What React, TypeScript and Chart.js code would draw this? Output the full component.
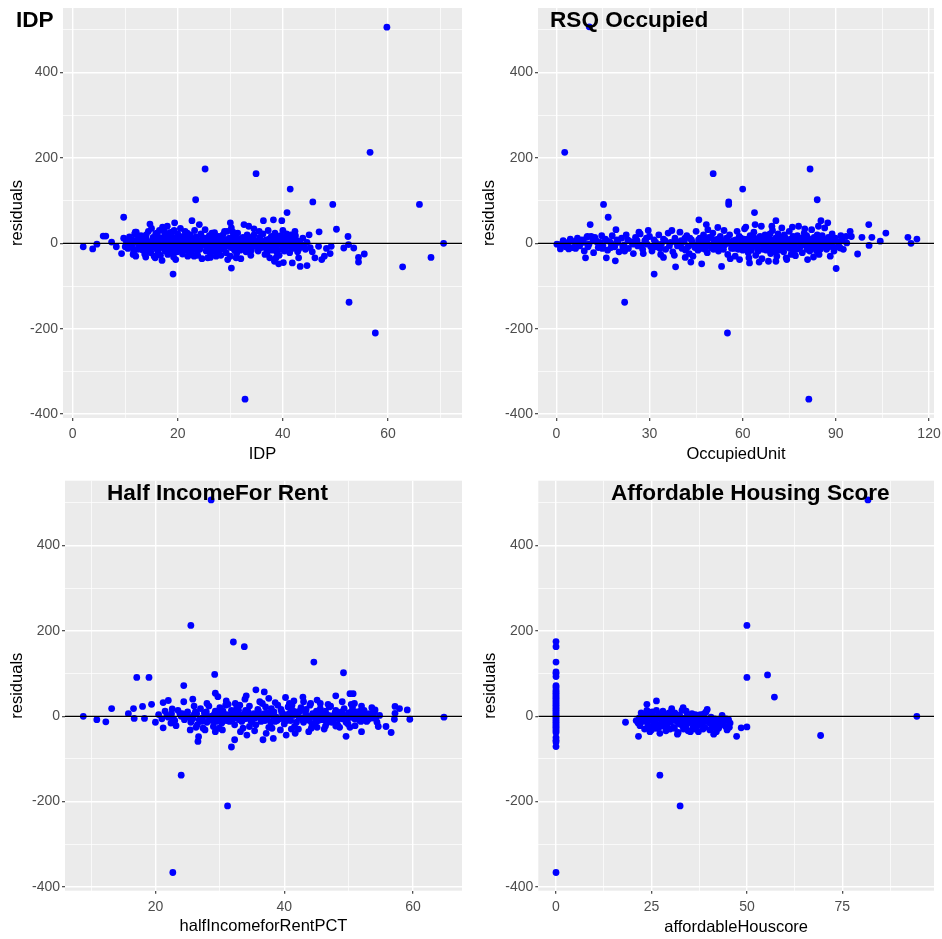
import React, { useEffect, useRef } from 'react';
import { Chart, registerables } from 'chart.js';
Chart.register(...registerables);
Chart.defaults.font.family = '"Liberation Sans", Arial, sans-serif';

// ---------- DATA (x, residual) ----------
const idpPoints: [number, number][] = [
  [59.8, 506], [56.6, 213], [25.2, 174], [34.9, 163], [41.4, 127], [23.4, 102], [45.7, 97], [49.5, 91], [66.0, 91],
  [40.8, 72], [9.7, 61], [32.8, -365], [57.6, -210], [52.6, -138], [62.8, -55], [68.2, -33], [70.6, 0], [19.1, -72],
  [30.2, -58], [2.0, -8], [3.8, -13], [4.6, -2], [5.8, 17], [6.3, 17], [7.4, 3], [8.3, -8], [9.3, -24], [50.2, 33],
  [52.4, 16], [51.6, -11], [52.5, -3], [53.5, -11], [54.4, -33], [54.4, -44], [55.5, -25], [49.2, -7], [49.0, -24],
  [46.8, -7], [46.9, 27], [45.0, 20], [47.4, -38], [46.1, -34], [44.6, 2], [43.3, -54], [44.6, -52], [43.0, -34],
  [41.8, -46], [42.3, 28], [37.5, -34], [38.4, -42], [39.2, -48], [40.1, -45], [38.2, 55], [36.3, 53], [39.8, 53],
  [33.5, 40], [34.5, 34], [32.6, 44], [30.0, 48], [22.7, 53], [24.1, 44], [19.4, 48], [26.2, -33], [14.7, 45],
  [11.9, 26], [9.7, 12],
  [10.2, 5], [10.5, -12], [10.8, 15], [11.0, -3], [11.3, 8], [11.6, -20], [11.8, 22], [12.0, -30], [12.2, 2], [12.5, 12],
  [12.7, -8], [13.0, 18], [13.2, -15], [13.5, 4], [13.7, -25], [14.0, 10], [14.2, -5], [14.4, 28], [14.6, -18], [14.8, 0],
  [15.0, 35], [15.1, -10], [15.3, 14], [15.5, -30], [15.6, 6], [15.8, 22], [16.0, -14], [16.1, 3], [16.3, -22], [16.5, 30],
  [16.6, -6], [16.8, 12], [17.0, -40], [17.1, 38], [17.3, -2], [17.5, 18], [17.6, -18], [17.8, 8], [18.0, 40], [18.1, -26],
  [18.3, -8], [18.5, 25], [18.6, 2], [18.8, -15], [19.0, 14], [19.2, -32], [19.3, 30], [19.5, -4], [19.7, 10], [19.9, -20],
  [20.0, 22], [20.2, 0], [20.4, -12], [20.5, 35], [20.7, 6], [20.9, -25], [21.0, 16], [21.2, -6], [21.4, 28], [21.5, -16],
  [21.7, 4], [21.9, -30], [22.0, 12], [22.2, -2], [22.4, 20], [22.6, -20], [22.8, 8], [23.0, -10], [23.2, 30], [23.4, -5],
  [23.5, 15], [23.8, -28], [24.0, 2], [24.2, -14], [24.4, 22], [24.6, -36], [24.8, 10], [25.0, -4], [25.2, 32], [25.4, -18],
  [25.6, 6], [25.8, -10], [26.0, 18], [26.2, -24], [26.4, 0], [26.6, 12], [26.8, -8], [27.0, 25], [27.2, -20], [27.4, 4],
  [27.6, -12], [27.8, 16], [28.0, -2], [28.2, -28], [28.4, 10], [28.6, 20], [28.8, -14], [29.0, 2], [29.2, -22], [29.4, 28],
  [29.6, -6], [29.8, 12], [30.0, -30], [30.2, 36], [30.4, -2], [30.6, 18], [30.8, -16], [31.0, 6], [31.2, -24], [31.4, 24],
  [31.6, -8], [31.8, 10], [32.0, -36], [32.2, 2], [32.4, 14], [32.6, -12], [32.8, 4], [33.0, -20], [33.2, 20], [33.5, -4],
  [33.8, 8], [34.0, -16], [34.3, 12], [34.6, -6], [35.0, 2], [35.3, -18], [35.6, 14], [35.9, -10], [36.2, 22], [36.5, -2],
  [36.8, 8], [37.0, -24], [37.2, 30], [37.5, -8], [37.8, 16], [38.0, -16], [38.2, 4], [38.5, 24], [38.8, -12], [39.0, 10],
  [39.3, -28], [39.6, 18], [39.8, -4], [40.0, 30], [40.3, -18], [40.5, 6], [40.8, -8], [41.0, 14], [41.3, -22], [41.6, 2],
  [41.9, -12], [42.2, 10], [42.5, -4], [42.8, -20], [43.2, 4], [43.6, -8],
  [10.4, -2], [11.2, 2], [12.4, -14], [13.4, 8], [14.3, -8], [15.4, 2], [16.2, 16], [16.9, -10], [17.7, 4], [18.4, -4],
  [19.1, 6], [19.8, -10], [20.6, -2], [21.3, 10], [22.1, -10], [22.9, 2], [23.7, -18], [24.5, 8], [25.3, 0], [26.1, -14],
  [26.9, 8], [27.7, -6], [28.5, -4], [29.3, 8], [30.1, -10], [30.9, 14], [31.7, 0], [32.5, -4], [33.3, 6], [34.1, 2],
  [35.1, -6], [36.0, 4], [37.1, -4], [38.1, 10], [39.1, 0], [40.1, -6], [41.1, -2], [42.0, 2], [14.9, -22], [16.7, -28],
  [18.9, 26], [21.8, 24], [23.1, -30], [27.3, -30], [28.9, 28], [31.1, -34], [33.9, -28], [36.6, -26], [38.7, -34], [40.7, 22],
  [42.4, 18], [15.7, -34], [19.6, -38], [25.7, -34], [29.5, -38], [35.5, 28], [17.4, 28], [13.9, -32], [12.1, 26], [11.5, -26],
  [10.0, -8], [10.6, 8], [11.4, -10], [11.9, 6], [12.6, -4], [12.9, 4], [13.3, -6], [13.8, 14], [14.1, -14], [14.5, 4],
  [15.2, -4], [15.9, -8], [16.4, 8], [17.2, -6], [17.9, -14], [18.2, 12], [18.7, -2], [19.4, -12], [20.1, 12], [20.3, -6],
  [20.8, 2], [21.1, -14], [21.6, 8], [22.3, 6], [22.7, -6], [23.3, 10], [23.6, -2], [24.1, -8], [24.7, -4], [25.1, 12],
  [25.5, -8], [25.9, 4], [26.3, 10], [26.7, -4], [27.1, -12], [27.5, 12], [27.9, -16], [28.3, 4], [28.7, -8], [29.1, -4],
  [29.7, 2], [30.3, 8], [30.7, -6], [31.3, -12], [31.5, 6], [31.9, -16], [32.3, 8], [32.7, 2], [33.1, -8], [33.7, 14],
  [34.2, -8], [34.8, 6], [35.4, -12], [35.8, 4], [36.3, -8], [36.9, -14], [37.4, 10], [37.9, -2], [38.4, -6], [38.9, 14],
  [39.4, 6], [39.9, -14], [40.4, 12], [40.9, 4], [41.5, -8], [41.8, 8], [42.3, -10], [42.7, 6], [43.0, -14], [44.0, -4],
  [44.3, -14], [45.2, -10], [45.6, -20], [47.9, -30], [48.3, -12], [43.8, 12], [14.0, 20], [16.0, 24], [19.0, -24],
  [22.5, -26], [26.5, 24], [30.5, 26], [34.5, 20], [38.9, -22], [41.5, 20],
];

const occupiedPoints: [number, number][] = [
  [10.6, 507], [2.7, 213], [81.7, 174], [50.5, 163], [60.0, 127], [84.0, 102], [55.5, 97], [55.5, 91], [15.2, 91],
  [63.8, 72], [16.7, 61], [10.9, 44], [81.3, -365], [55.1, -210], [22.0, -138], [31.5, -72], [90.1, -59], [38.4, -55],
  [53.2, -54], [45.9, 55], [48.3, 44], [52.0, 37], [70.7, 53], [85.2, 53], [87.4, 48], [100.6, 44], [106.1, 24],
  [113.2, 14], [116.1, 10], [114.2, 0], [104.3, 5], [101.6, 14], [98.4, 14], [100.7, -5], [97.0, -25], [94.6, 28],
  [93.3, 16], [91.4, -11], [93.5, 1], [88.2, -30], [80.9, -38], [82.8, -32], [9.4, -34], [4.0, -13], [1.3, -13],
  [0.2, -2], [0.9, -3], [16.1, -34], [19.0, -41], [19.2, 32], [34.5, -33], [41.5, -33], [43.3, -44], [46.8, -48],
  [62.2, -46], [65.3, -44], [68.3, -42], [74.2, -38], [77.0, -29], [70.7, -42],
  [1.5, -4], [2.2, 6], [3.0, -8], [3.8, 2], [4.5, 10], [5.2, -10], [6.0, 4], [6.8, 12], [7.5, -6], [8.2, 8], [9.0, -18],
  [9.8, 14], [10.5, -2], [11.2, 16], [12.0, -22], [12.8, 6], [13.5, -10], [14.2, 2], [15.0, -6], [15.8, 10], [16.5, -16],
  [17.2, 4], [18.0, 18], [18.8, -8], [19.5, 8], [20.2, -20], [21.0, 12], [21.8, -4], [22.5, 20], [23.2, -12], [24.0, 4],
  [24.8, -24], [25.5, 14], [26.2, -6], [27.0, 22], [27.8, -14], [28.5, 6], [29.2, -2], [30.0, 16], [30.8, -18], [31.5, 8],
  [32.2, -8], [33.0, 20], [33.8, -2], [34.5, 10], [35.2, -14], [36.0, 24], [36.8, 2], [37.5, -20], [38.2, 12], [39.0, -6],
  [39.8, 26], [40.5, -12], [41.2, 4], [42.0, 18], [42.8, -24], [43.5, 8], [44.2, -4], [45.0, 28], [45.6, -16], [46.2, 12],
  [46.8, -8], [47.4, 20], [48.0, 0], [48.6, -22], [49.2, 14], [49.8, -10], [50.4, 24], [51.0, -2], [51.6, 8], [52.2, -18],
  [52.8, 16], [53.4, -6], [54.0, 30], [54.6, 2], [55.2, -26], [55.8, 20], [56.4, -12], [57.0, 6], [57.6, -30], [58.2, 28],
  [58.8, -4], [59.4, 12], [60.0, -16], [60.6, 34], [61.2, 2], [61.8, -22], [62.4, 18], [63.0, -8], [63.6, 26], [64.2, -28],
  [64.8, 10], [65.4, -2], [66.0, 40], [66.6, -14], [67.2, 20], [67.8, -6], [68.4, 14], [69.0, -24], [69.6, 30], [70.2, 4],
  [70.8, -12], [71.4, 22], [72.0, -2], [72.6, 36], [73.2, -20], [73.8, 8], [74.4, -8], [75.0, 28], [75.6, -26], [76.2, 16],
  [76.8, 0], [77.4, -14], [78.0, 40], [78.6, 6], [79.2, -22], [79.8, 24], [80.4, -6], [81.0, 12], [81.6, -18], [82.2, 32],
  [82.8, 2], [83.4, -10], [84.0, 20], [84.6, -26], [85.2, 8], [85.8, -4], [86.4, 36], [87.0, -14], [87.6, 14], [88.2, -2],
  [88.8, 22], [89.4, -18], [90.0, 6], [90.8, -8], [91.6, 18], [92.4, -14], [95.0, 16],
  [40.2, 6], [41.6, -16], [43.0, 12], [44.6, -10], [46.0, 2], [47.0, -2], [48.2, 10], [49.6, -4], [50.8, 6], [51.8, -12],
  [52.6, 2], [53.8, -14], [54.8, 12], [55.6, 0], [56.8, -6], [57.8, 8], [58.6, -14], [59.8, 2], [60.8, -6], [61.6, 10],
  [62.6, -2], [63.4, 4], [64.6, -10], [65.6, 16], [66.8, 2], [67.6, -16], [68.6, 6], [69.8, -4], [70.6, 12], [71.8, -8],
  [72.8, 4], [73.6, 14], [74.8, -2], [75.8, 6], [76.6, -8], [77.8, 10], [78.8, -4], [79.6, 2], [80.6, 18], [81.4, -4],
  [82.6, -12], [83.6, 6], [84.8, -8], [85.6, 18], [86.8, 2], [87.8, -8], [56.0, -36], [62.0, -34], [66.2, -36], [71.0, -30],
  [74.0, -34], [59.0, -38], [48.8, 32], [64.0, 44], [69.4, 40], [76.0, 38], [80.0, 34], [84.4, 40], [61.0, 38], [44.0, -30],
  [38.0, -28], [33.6, -26], [28.0, -24], [22.0, -18], [26.6, 26], [29.6, 30], [37.2, 30], [6.2, -12], [10.0, 16], [12.4, 14],
  [14.6, 18], [17.6, -10],
  [3.4, -2], [5.6, 4], [7.2, -2], [8.8, 2], [10.2, -8], [11.8, 6], [13.2, 2], [14.8, -12], [16.2, 6], [17.8, -2],
  [19.8, 2], [21.4, -8], [23.0, 8], [24.6, -2], [26.0, 6], [27.4, -4], [29.0, 12], [30.4, -8], [32.0, 2], [33.4, -12],
  [35.0, 6], [36.4, -6], [38.6, 2], [40.0, -4], [41.4, 12], [42.4, -8], [43.8, 2], [45.2, -4], [45.8, 8], [46.4, -12],
  [47.2, 6], [47.8, -14], [48.4, 4], [49.0, -6], [50.0, 12], [50.6, -14], [51.2, 2], [52.0, 10], [53.0, -8], [53.6, 6],
  [54.2, -4], [55.0, 8], [56.2, 4], [57.2, -12], [58.0, -2], [58.9, 16], [59.6, -8], [60.4, 10], [61.4, -12], [62.2, 4],
  [62.8, -16], [63.8, 12], [64.4, 0], [65.0, -18], [65.8, 6], [66.4, -4], [67.0, 10], [67.4, 2], [68.0, -10], [68.8, 22],
  [69.2, -14], [70.0, 8], [70.4, -20], [71.2, 2], [71.6, -16], [72.2, 12], [73.0, -6], [73.4, 20], [74.2, 2], [75.2, -12],
  [75.4, 10], [76.4, -18], [77.0, 4], [77.6, 18], [78.4, -10], [79.0, 12], [79.4, -2], [80.2, 6], [80.8, -14], [81.8, 8],
  [82.4, -4], [83.0, 14], [83.8, -18], [84.2, 2], [85.0, -14], [86.0, 10], [86.6, -8], [87.2, 4], [88.4, 10], [89.0, -6],
  [89.8, 12], [91.0, 2], [92.0, 6],
];

const halfIncomePoints: [number, number][] = [
  [28.65, 507], [25.5, 213], [32.1, 174], [33.8, 163], [44.6, 127], [49.2, 102], [29.2, 98], [17.1, 91], [19.0, 91],
  [24.4, 72], [24.0, -138], [31.2, -210], [22.7, -366], [31.8, -72], [26.6, -59], [32.3, -55], [36.7, -55], [38.3, -52],
  [49.6, -47], [52.0, -36], [56.6, -38], [55.8, -24], [54.6, -24], [59.5, -7], [64.8, -2], [57.1, -7], [57.2, 7],
  [57.2, 23], [57.9, 18], [59.1, 15], [54.1, 15], [50.2, 53], [50.7, 53], [48.0, 48], [50.9, 30], [8.8, 0], [10.9, -8],
  [12.3, -13], [13.2, 18], [15.8, 6], [16.6, 18], [18.0, 23], [16.7, -5], [18.3, -5], [19.4, 28], [20.0, -14], [21.2, -27],
  [22.0, 37], [21.2, 32], [22.6, 17], [22.4, -16], [24.4, 34], [25.4, -32], [25.8, 40], [26.7, -48], [27.7, -32],
  [29.3, -36], [29.7, 46], [29.3, 54], [33.9, 40], [34.1, 48], [35.6, 62], [36.9, 57], [37.6, 42], [40.2, 44], [42.9, 45],
  [41.5, 36], [45.1, 38], [45.6, 30], [43.8, -36], [41.7, -40], [40.3, -44], [46.4, -23], [48.0, -23], [48.2, -5],
  [52.7, -5], [53.6, 20],
  [20.5, 4], [21.0, -6], [21.5, 12], [22.0, -2], [22.5, 6], [23.0, -10], [23.5, 14], [24.0, 0], [24.5, -8], [25.0, 10],
  [25.5, -14], [26.0, 4], [26.5, -20], [27.0, 18], [27.3, -4], [27.6, 8], [28.0, -14], [28.3, 24], [28.6, 0], [29.0, -24],
  [29.3, 12], [29.6, -6], [30.0, 20], [30.3, -16], [30.6, 4], [31.0, -10], [31.3, 28], [31.6, -2], [32.0, 10], [32.3, -20],
  [32.6, 18], [33.0, -8], [33.3, 2], [33.6, -28], [34.0, 14], [34.3, -4], [34.6, 24], [35.0, -14], [35.3, 6], [35.6, -20],
  [36.0, 12], [36.3, -2], [36.6, 30], [37.0, -10], [37.3, 8], [37.6, -26], [38.0, 18], [38.3, 0], [38.6, -12], [39.0, 26],
  [39.3, -6], [39.6, 10], [40.0, -18], [40.3, 4], [40.6, 22], [41.0, -10], [41.3, 14], [41.6, -24], [42.0, 6], [42.3, -2],
  [42.6, 20], [43.0, -14], [43.3, 8], [43.6, -6], [44.0, 26], [44.3, -18], [44.6, 2], [45.0, 12], [45.3, -10], [45.6, 18],
  [46.0, -4], [46.3, 6], [46.6, -16], [47.0, 22], [47.3, 0], [47.6, -10], [48.0, 14], [48.3, -20], [48.6, 4], [49.0, -6],
  [49.3, 18], [49.6, -14], [50.0, 8], [50.3, -2], [50.6, 20], [51.0, -22], [51.3, 10], [51.6, -8], [52.0, 2], [52.4, 14],
  [52.8, -12], [53.2, 6], [53.6, -4], [54.0, 10], [54.4, -14], [54.8, 2],
  [24.2, 6], [25.2, -2], [26.2, 10], [26.8, -8], [27.8, 2], [28.8, -10], [29.8, 6], [30.8, -4], [31.8, 14], [32.8, -2],
  [33.8, 6], [34.8, -10], [35.8, 2], [36.8, -6], [37.8, 8], [38.8, -2], [39.8, 4], [40.8, -4], [41.8, 10], [42.8, -8],
  [43.8, 0], [44.8, -4], [45.8, 6], [46.8, -8], [47.8, 4], [48.8, -2], [49.8, -8], [50.8, 4], [51.8, 12], [52.6, -6],
  [27.4, -28], [30.4, -32], [33.2, -36], [35.4, -34], [37.2, -40], [39.4, -32], [42.2, -30], [44.2, -28], [46.2, -30],
  [50.2, -26], [28.0, 30], [31.0, 36], [32.4, 30], [36.2, 34], [38.6, 32], [40.8, 30], [43.0, 34], [46.8, 28], [49.0, 34],
  [52.0, 24], [26.0, 24], [23.2, -22], [34.2, -44],
  [21.8, 2], [22.8, -6], [23.8, 6], [24.8, 2], [25.8, -6], [26.4, 6], [27.2, -12], [27.9, 10], [28.4, -6], [29.1, 4],
  [29.5, -12], [30.1, -2], [30.5, 12], [31.1, 4], [31.5, -12], [32.1, -6], [32.5, 6], [32.9, 14], [33.4, -12], [33.9, -6],
  [34.4, 10], [34.9, 2], [35.5, -4], [35.9, 16], [36.4, -12], [36.9, 6], [37.4, -4], [37.9, -14], [38.4, 10], [38.9, -10],
  [39.5, 16], [39.9, -6], [40.4, -10], [40.9, 8], [41.4, 2], [41.9, -14], [42.4, 12], [42.9, -4], [43.4, 16], [43.9, -10],
  [44.4, 6], [44.9, -14], [45.4, 2], [45.9, -8], [46.4, 12], [46.9, 2], [47.4, -14], [47.9, 8], [48.4, -6], [48.9, 10],
  [49.4, 2], [49.9, -18], [50.4, 10], [50.9, -6], [51.4, 2], [51.9, -12], [52.3, 6], [53.0, -8], [53.8, 2], [54.2, -6],
  [26.3, -26], [29.9, -28], [34.6, -24], [38.1, -28], [41.1, -30], [45.1, -26], [48.6, -26], [30.9, 26], [33.1, 26],
  [37.1, 22], [41.2, 26], [44.1, 30], [47.2, 24], [50.4, 28],
];

const affordablePoints: [number, number][] = [
  [81.7, 507], [50.0, 213], [50.0, 91], [55.4, 97], [57.2, 45], [69.3, -45], [94.5, 0], [27.2, -138], [32.5, -210],
  [50.0, -25], [48.5, -27], [47.3, -47], [18.2, -14], [21.6, -47], [26.3, 36], [23.8, 28],
  [0, 175], [0, 163], [0, 127], [0, 104], [0, 100], [0, 93], [0, 72], [0, 68], [0, 62], [0, 58], [0, 54], [0, 50],
  [0, 46], [0, 42], [0, 38], [0, 34], [0, 30], [0, 26], [0, 22], [0, 18], [0, 14], [0, 10], [0, 6], [0, 2], [0, -2],
  [0, -6], [0, -10], [0, -14], [0, -18], [0, -22], [0, -26], [0, -30], [0, -34], [0, -38], [0, -50], [0, -56], [0, -60],
  [0, -71], [0, -366],
  [21.0, -10], [21.5, -16], [21.8, -4], [22.0, -22], [22.3, 8], [22.6, -12], [23.0, 2], [23.2, -30], [23.5, -6], [23.8, 14],
  [24.0, -18], [24.3, 4], [24.6, -36], [24.8, -8], [25.2, 10], [25.5, -20], [25.8, 0], [26.0, -12], [26.3, 14], [26.6, -4],
  [27.0, -26], [27.3, 6], [27.6, -10], [28.0, 12], [28.3, -16], [28.6, 2], [29.0, -22], [29.3, -6], [29.6, 8], [30.0, -14],
  [30.3, 18], [30.6, -2], [31.0, -28], [31.3, -10], [31.6, 4], [32.0, -38], [32.3, -18], [32.6, -4], [33.0, 14], [33.3, 20],
  [33.6, -10], [34.0, -24], [34.3, 0], [34.6, -34], [35.0, -14], [35.3, -6], [35.6, 6], [36.0, -20], [36.3, -30], [36.6, -2],
  [37.0, -12], [37.3, -36], [37.6, -8], [38.0, 0], [38.3, -18], [38.6, -4], [39.0, -26], [39.3, 10], [39.6, 16], [40.0, -10],
  [40.3, -32], [40.6, -2], [41.0, -20], [41.3, -42], [41.6, -6], [42.0, -36], [42.3, -14], [42.6, -28], [43.0, -8], [43.5, 2],
  [44.0, -12], [44.4, -24], [44.8, -32], [45.2, -8], [45.6, -16], [27.2, -40], [28.8, -34], [30.8, -26], [33.4, -30],
  [35.8, -28], [31.8, -42], [34.8, -2], [29.8, 6], [26.8, -20], [25.0, -32], [23.6, 2], [37.8, 4], [40.8, -22], [39.6, -12],
  [32.8, -16],
  [22.8, -2], [23.9, -10], [24.9, 6], [25.6, -6], [26.2, -28], [26.9, 2], [27.8, -4], [28.4, -24], [29.2, -12], [29.9, -30],
  [30.5, -8], [31.1, 8], [31.9, -14], [32.4, 2], [33.1, -22], [33.9, -4], [34.5, -16], [35.2, -36], [35.9, -10], [36.5, 4],
  [37.1, -22], [37.9, -14], [38.5, -30], [39.2, -6], [40.2, -16], [41.1, -12], [41.9, -28], [43.2, -20], [44.6, -6],
  [45.4, -26], [24.4, -26], [30.2, 10], [34.1, 12], [38.8, 6],
];

const yTicksAll = [-400, -300, -200, -100, 0, 100, 200, 300, 400, 500];
const yTicksLabeled = [-400, -200, 0, 200, 400];

const idpTicks = [0, 10, 20, 30, 40, 50, 60, 70];
const idpLabeled = [0, 20, 40, 60];
const occTicks = [0, 15, 30, 45, 60, 75, 90, 105, 120];
const occLabeled = [0, 30, 60, 90, 120];
const halfTicks = [10, 20, 30, 40, 50, 60];
const halfLabeled = [20, 40, 60];
const affTicks = [0, 12.5, 25, 37.5, 50, 62.5, 75, 87.5];
const affLabeled = [0, 25, 50, 75];

type Panel = {
  title: string; titleX: number; titleY: number; xLabel: string;
  left: number; top: number; w: number; h: number;
  pl: number; pr: number; pt: number; pb: number;
  xMin: number; xMax: number; yMin: number; yMax: number;
  xTicks: number[]; xLabeled: number[]; points: [number, number][];
  xTitlePad: number; yTitlePad: number;
};

const panels: Panel[] = [
  { title: 'IDP', titleX: 16, titleY: 27, xLabel: 'IDP', left: 0, top: 0, w: 470, h: 470, pl: 63, pr: 462, pt: 8, pb: 418,
    xMin: -1.85, xMax: 74.1, yMin: -409, yMax: 551, xTicks: idpTicks, xLabeled: idpLabeled, points: idpPoints, xTitlePad: 5.5, yTitlePad: 7.6 },
  { title: 'RSQ Occupied', titleX: 80, titleY: 27, xLabel: 'OccupiedUnit', left: 470, top: 0, w: 472, h: 470, pl: 68, pr: 464, pt: 8, pb: 418,
    xMin: -5.9, xMax: 121.6, yMin: -409, yMax: 551, xTicks: occTicks, xLabeled: occLabeled, points: occupiedPoints, xTitlePad: 5.5, yTitlePad: 9.3 },
  { title: 'Half IncomeFor Rent', titleX: 107, titleY: 29.5, xLabel: 'halfIncomeforRentPCT', left: 0, top: 470, w: 470, h: 469, pl: 65, pr: 462, pt: 10.7, pb: 420.7,
    xMin: 5.96, xMax: 67.6, yMin: -408.7, yMax: 552, xTicks: halfTicks, xLabeled: halfLabeled, points: halfIncomePoints, xTitlePad: 3, yTitlePad: 7.3 },
  { title: 'Affordable Housing Score', titleX: 141, titleY: 29.5, xLabel: 'affordableHouscore', left: 470, top: 470, w: 472, h: 469, pl: 68.3, pr: 464, pt: 10.7, pb: 420.7,
    xMin: -4.64, xMax: 99.0, yMin: -408.7, yMax: 552, xTicks: affTicks, xLabeled: affLabeled, points: affordablePoints, xTitlePad: 1.6, yTitlePad: 10.6 },
];

function PanelChart({ p }: { p: Panel }) {
  const ref = useRef<HTMLCanvasElement | null>(null);
  useEffect(() => {
    if (!ref.current) return;
    const bg = {
      id: 'bg',
      beforeDraw(chart: any) {
        const { ctx, chartArea: a } = chart;
        ctx.save();
        ctx.fillStyle = '#ffffff';
        ctx.fillRect(0, 0, chart.width, chart.height);
        ctx.fillStyle = '#EBEBEB';
        ctx.fillRect(a.left, a.top, a.right - a.left, a.bottom - a.top);
        ctx.restore();
      },
    };
    const titlePlugin = {
      id: 'ptitle',
      afterDraw(chart: any) {
        const ctx = chart.ctx;
        ctx.save();
        ctx.font = 'bold 22.6px "Liberation Sans", Arial, sans-serif';
        ctx.fillStyle = '#000';
        ctx.textBaseline = 'alphabetic';
        ctx.textAlign = 'left';
        ctx.fillText(p.title, p.titleX, p.titleY);
        ctx.restore();
      },
    };
    const gridOpts = (labeled: number[]) => ({
      color: '#ffffff',
      lineWidth: (c: any) => (c.tick && labeled.includes(c.tick.value) ? 1.4 : 0.7),
      tickColor: (c: any) => (c.tick && labeled.includes(c.tick.value) ? '#333333' : 'rgba(0,0,0,0)'),
      tickLength: 3,
      tickWidth: 1.1,
      drawTicks: true,
    });
    const chart = new Chart(ref.current, {
      type: 'scatter',
      data: {
        datasets: [
          {
            type: 'line',
            data: [{ x: p.xMin, y: 0 }, { x: p.xMax, y: 0 }],
            borderColor: '#000000',
            borderWidth: 1.3,
            pointRadius: 0,
            order: 0,
          } as any,
          {
            data: p.points.map(([x, y]) => ({ x, y })),
            backgroundColor: '#0000FF',
            borderWidth: 0,
            pointRadius: 3.4,
            pointHoverRadius: 3.4,
            order: 1,
          },
        ],
      },
      options: {
        animation: false,
        responsive: false,
        maintainAspectRatio: false,
        events: [],
        layout: { padding: { top: p.pt, right: p.w - p.pr, left: 0, bottom: 0 } },
        plugins: { legend: { display: false }, tooltip: { enabled: false }, title: { display: false } },
        scales: {
          x: {
            type: 'linear',
            min: p.xMin,
            max: p.xMax,
            afterBuildTicks: (s: any) => { s.ticks = p.xTicks.map((v) => ({ value: v })); },
            afterFit: (s: any) => { s.height = p.h - p.pb; s.paddingLeft = 0; s.paddingRight = 0; },
            grid: gridOpts(p.xLabeled) as any,
            border: { display: false },
            ticks: {
              autoSkip: false, maxRotation: 0, minRotation: 0, padding: 5,
              color: '#4D4D4D', font: { size: 14 },
              callback: (v: any) => (p.xLabeled.includes(Number(v)) ? String(v) : ''),
            },
            title: { display: true, text: p.xLabel, color: '#000', font: { size: 16.5 }, padding: { top: 0, bottom: p.xTitlePad } },
          },
          y: {
            type: 'linear',
            min: p.yMin,
            max: p.yMax,
            afterBuildTicks: (s: any) => { s.ticks = yTicksAll.map((v) => ({ value: v })); },
            afterFit: (s: any) => { s.width = p.pl; s.paddingTop = 0; s.paddingBottom = 0; },
            grid: gridOpts(yTicksLabeled) as any,
            border: { display: false },
            ticks: {
              autoSkip: false, padding: 2,
              color: '#4D4D4D', font: { size: 14 },
              callback: (v: any) => (yTicksLabeled.includes(Number(v)) ? String(v) : ''),
            },
            title: { display: true, text: 'residuals', color: '#000', font: { size: 16.5 }, padding: { top: p.yTitlePad, bottom: 0 } },
          },
        },
      },
      plugins: [bg, titlePlugin],
    });
    return () => chart.destroy();
  }, [p]);
  return (
    <canvas
      ref={ref}
      width={p.w}
      height={p.h}
      style={{ position: 'absolute', left: p.left, top: p.top, width: p.w, height: p.h }}
    />
  );
}

export default function App() {
  return (
    <div style={{ position: 'absolute', left: 0, top: 0, width: 942, height: 939, background: '#ffffff' }}>
      {panels.map((p) => (
        <PanelChart key={p.title} p={p} />
      ))}
    </div>
  );
}
